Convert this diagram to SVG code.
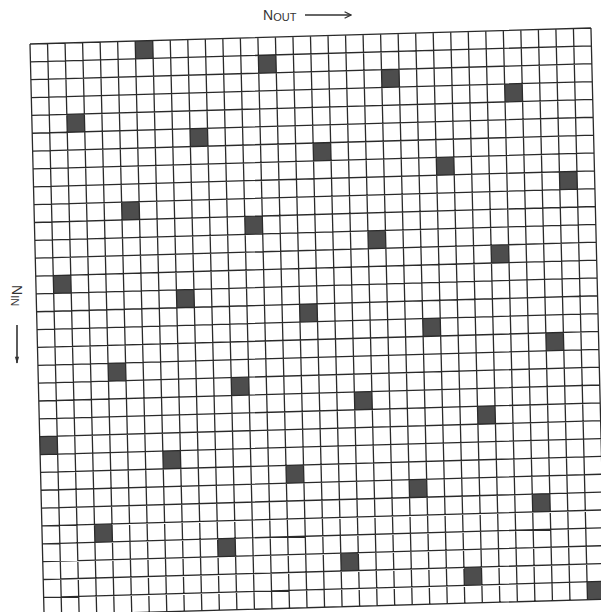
<svg xmlns="http://www.w3.org/2000/svg" width="601" height="612" viewBox="0 0 601 612">
<style>
.cell{fill:#4d4d4d}
.grid{fill:none;stroke:#2a2a2a;stroke-width:1.3}
.lbl{font-family:"Liberation Sans",Arial,sans-serif;fill:#333}
.arr{stroke:#333;stroke-width:1.6;fill:none}
</style>
<defs>
<marker id="hd" viewBox="0 0 10 10" refX="9" refY="5" markerWidth="8" markerHeight="8" markerUnits="userSpaceOnUse" orient="auto">
<path d="M1 1L9 5L1 9" fill="none" stroke="#333" stroke-width="1.6"/>
</marker>
<marker id="hd2" viewBox="0 0 10 10" refX="9" refY="5" markerWidth="10" markerHeight="7" markerUnits="userSpaceOnUse" orient="auto">
<path d="M0 2L10 5L0 8Z" fill="#333"/>
</marker>
</defs>
<rect width="601" height="612" fill="#fff"/>
<g id="matrix" transform="matrix(1.0017 -0.02857 0.02514 1.02 30 44)">
<g id="cells">
<rect id="c0" class="cell" x="105" y="0" width="17.5" height="17.5"/>
<rect id="c1" class="cell" x="227.5" y="17.5" width="17.5" height="17.5"/>
<rect id="c2" class="cell" x="350" y="35" width="17.5" height="17.5"/>
<rect id="c3" class="cell" x="472.5" y="52.5" width="17.5" height="17.5"/>
<rect id="c4" class="cell" x="35" y="70" width="17.5" height="17.5"/>
<rect id="c5" class="cell" x="157.5" y="87.5" width="17.5" height="17.5"/>
<rect id="c6" class="cell" x="280" y="105" width="17.5" height="17.5"/>
<rect id="c7" class="cell" x="402.5" y="122.5" width="17.5" height="17.5"/>
<rect id="c8" class="cell" x="525" y="140" width="17.5" height="17.5"/>
<rect id="c9" class="cell" x="87.5" y="157.5" width="17.5" height="17.5"/>
<rect id="c10" class="cell" x="210" y="175" width="17.5" height="17.5"/>
<rect id="c11" class="cell" x="332.5" y="192.5" width="17.5" height="17.5"/>
<rect id="c12" class="cell" x="455" y="210" width="17.5" height="17.5"/>
<rect id="c13" class="cell" x="17.5" y="227.5" width="17.5" height="17.5"/>
<rect id="c14" class="cell" x="140" y="245" width="17.5" height="17.5"/>
<rect id="c15" class="cell" x="262.5" y="262.5" width="17.5" height="17.5"/>
<rect id="c16" class="cell" x="385" y="280" width="17.5" height="17.5"/>
<rect id="c17" class="cell" x="507.5" y="297.5" width="17.5" height="17.5"/>
<rect id="c18" class="cell" x="70" y="315" width="17.5" height="17.5"/>
<rect id="c19" class="cell" x="192.5" y="332.5" width="17.5" height="17.5"/>
<rect id="c20" class="cell" x="315" y="350" width="17.5" height="17.5"/>
<rect id="c21" class="cell" x="437.5" y="367.5" width="17.5" height="17.5"/>
<rect id="c22" class="cell" x="0" y="385" width="17.5" height="17.5"/>
<rect id="c23" class="cell" x="122.5" y="402.5" width="17.5" height="17.5"/>
<rect id="c24" class="cell" x="245" y="420" width="17.5" height="17.5"/>
<rect id="c25" class="cell" x="367.5" y="437.5" width="17.5" height="17.5"/>
<rect id="c26" class="cell" x="490" y="455" width="17.5" height="17.5"/>
<rect id="c27" class="cell" x="52.5" y="472.5" width="17.5" height="17.5"/>
<rect id="c28" class="cell" x="175" y="490" width="17.5" height="17.5"/>
<rect id="c29" class="cell" x="297.5" y="507.5" width="17.5" height="17.5"/>
<rect id="c30" class="cell" x="420" y="525" width="17.5" height="17.5"/>
<rect id="c31" class="cell" x="542.5" y="542.5" width="17.5" height="17.5"/>
</g>
<path id="gridlines" class="grid" d="M0 0V560M17.5 0V560M35 0V560M52.5 0V560M70 0V560M87.5 0V560M105 0V560M122.5 0V560M140 0V560M157.5 0V560M175 0V560M192.5 0V560M210 0V560M227.5 0V560M245 0V560M262.5 0V560M280 0V560M297.5 0V560M315 0V560M332.5 0V560M350 0V560M367.5 0V560M385 0V560M402.5 0V560M420 0V560M437.5 0V560M455 0V560M472.5 0V560M490 0V560M507.5 0V560M525 0V560M542.5 0V560M560 0V560M0 0H560M0 17.5H560M0 35H560M0 52.5H560M0 70H560M0 87.5H560M0 105H560M0 122.5H560M0 140H560M0 157.5H560M0 175H560M0 192.5H560M0 210H560M0 227.5H560M0 245H560M0 262.5H560M0 280H560M0 297.5H560M0 315H560M0 332.5H560M0 350H560M0 367.5H560M0 385H560M0 402.5H560M0 420H560M0 437.5H560M0 455H560M0 472.5H560M0 490H560M0 507.5H560M0 525H560M0 542.5H560M0 560H560"/>
</g>
<g id="label-out">
<text class="lbl" x="263" y="20" font-size="14">N<tspan font-size="11" dy="1">OUT</tspan></text>
</g>
<g id="label-in">
<text class="lbl" transform="translate(12 285) rotate(90)" font-size="14">N<tspan font-size="11" dy="1">IN</tspan></text>
</g>
<g id="connectors">
<line class="arr" x1="305" y1="15" x2="351" y2="15" marker-end="url(#hd)"/>
<line class="arr" x1="17" y1="325" x2="17" y2="363" marker-end="url(#hd2)"/>
</g>
</svg>
